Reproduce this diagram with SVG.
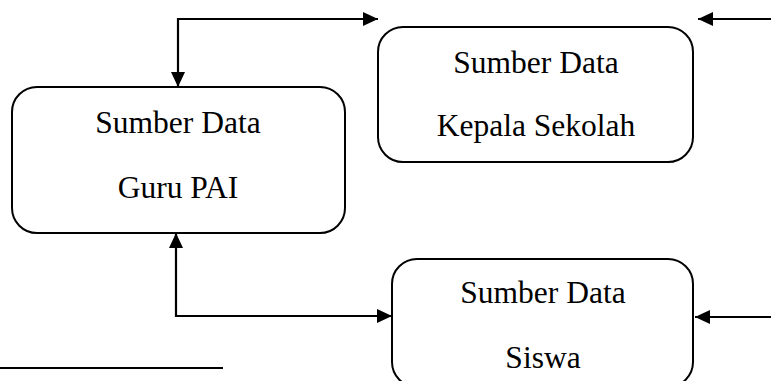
<svg xmlns="http://www.w3.org/2000/svg" width="771" height="381" viewBox="0 0 771 381">
  <style>
    .box { fill: #ffffff; stroke: #000000; stroke-width: 2; }
    .lbl { font-family: "Liberation Serif", "Times New Roman", serif; font-size: 31.5px; fill: #000000; text-anchor: middle; }
    .wire { fill: none; stroke: #000000; stroke-width: 2.2; }
  </style>
  <defs>
    <marker id="arrow" viewBox="0 0 15 14" refX="15" refY="7" markerWidth="15" markerHeight="14" markerUnits="userSpaceOnUse" orient="auto-start-reverse">
      <path d="M0,0 L15,7 L0,14 Z" fill="#000000"/>
    </marker>
  </defs>
  <rect width="771" height="381" fill="#ffffff"/>

  <g id="connectors">
    <path class="wire" d="M378,19 H178 V87" marker-start="url(#arrow)" marker-end="url(#arrow)"/>
    <path class="wire" d="M771,19 H698" marker-end="url(#arrow)"/>
    <path class="wire" d="M176,233 V316 H392" marker-start="url(#arrow)" marker-end="url(#arrow)"/>
    <path class="wire" d="M771,317 H695" marker-end="url(#arrow)"/>
  </g>

  <g id="node-kepala-sekolah">
    <rect class="box" x="378" y="27" width="315" height="135" rx="25" ry="25"/>
    <text class="lbl" x="536" y="73">Sumber Data</text>
    <text class="lbl" x="536" y="136">Kepala Sekolah</text>
  </g>

  <g id="node-guru-pai">
    <rect class="box" x="12" y="87" width="333" height="146" rx="25" ry="25"/>
    <text class="lbl" x="178" y="133">Sumber Data</text>
    <text class="lbl" x="178" y="198">Guru PAI</text>
  </g>

  <g id="node-siswa">
    <rect class="box" x="392" y="259" width="301" height="128" rx="25" ry="25"/>
    <text class="lbl" x="543" y="303">Sumber Data</text>
    <text class="lbl" x="543" y="368">Siswa</text>
  </g>

  <!-- footnote separator rule -->
  <line x1="0" y1="368" x2="223" y2="368" stroke="#000000" stroke-width="1.8"/>
</svg>
